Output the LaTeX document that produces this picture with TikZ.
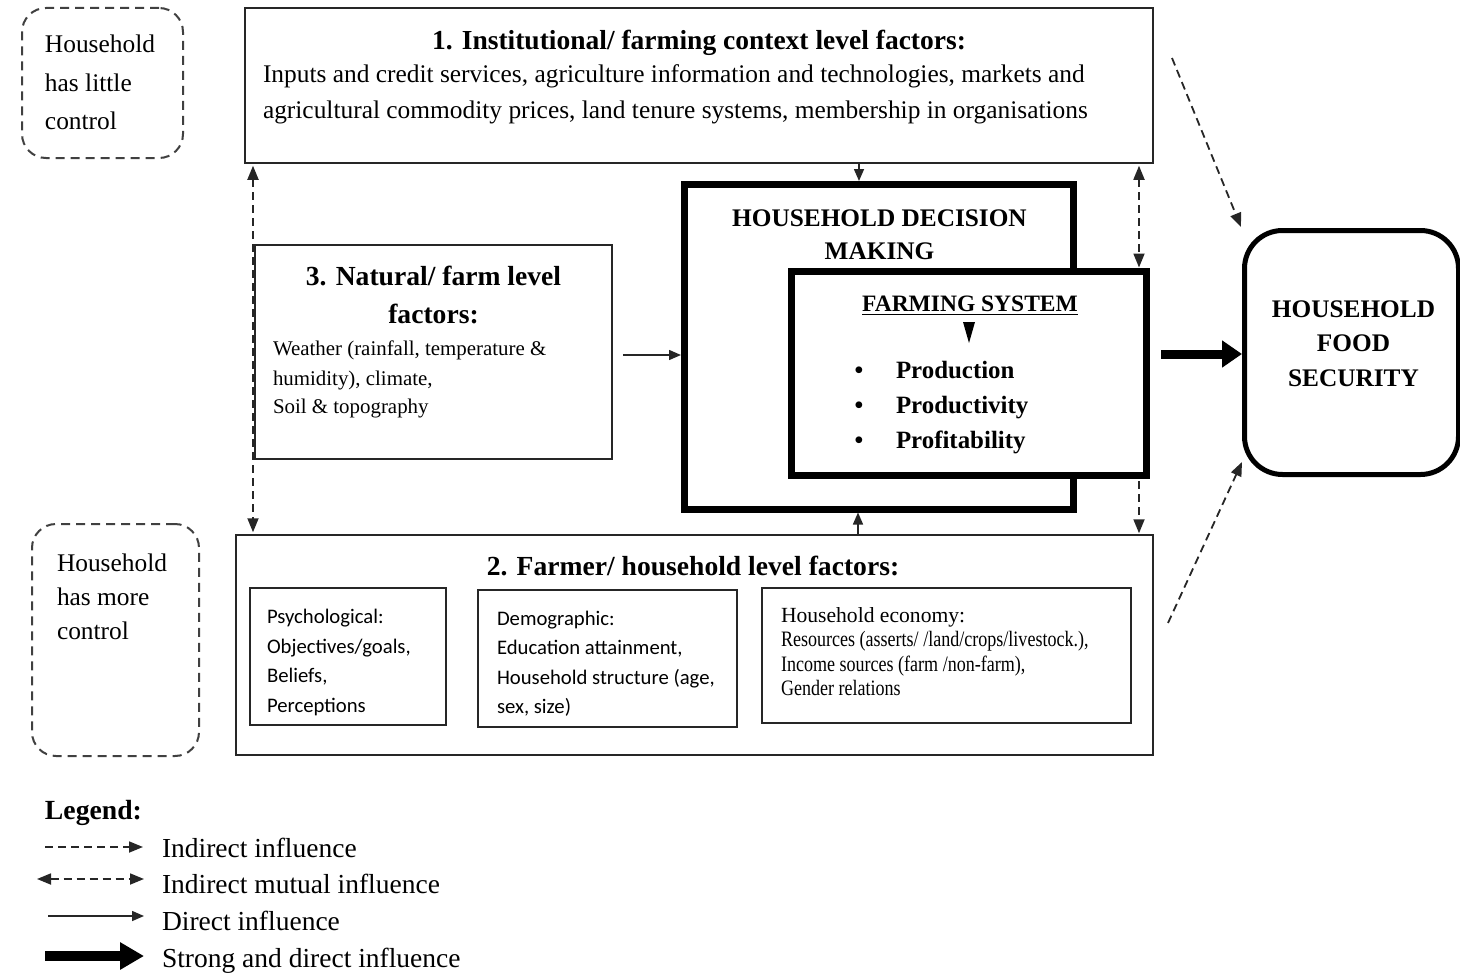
\documentclass[tikz,border=0pt]{standalone}
\usepackage{fontspec}
\setmainfont{Liberation Serif}
\newfontfamily\carl{Carlito}
\newfontfamily\narrowser[FakeStretch=0.82]{Liberation Serif}
\usetikzlibrary{arrows.meta}
\newcommand\fsz[1]{\fontsize{#1}{#1}\selectfont}
\begin{document}
\begin{tikzpicture}[x=1pt,y=-1pt,
  box/.style={draw=black!85, line width=1.5pt, inner sep=0pt},
  dbox/.style={draw=black!75, line width=2pt, dash pattern=on 9pt off 6pt, rounded corners=24pt, inner sep=0pt},
  thickbox/.style={draw=black, line width=7pt, inner sep=0pt, fill=white},
  t/.style={inner sep=0pt, outer sep=0pt, text=black},
  tw/.style={t, anchor=base west},
  tc/.style={t, anchor=base},
  sarr/.style={draw=black!85, line width=1.5pt, -{Triangle[length=12pt,width=10pt]}},
  darr/.style={draw=black!85, line width=1.8pt, dash pattern=on 8pt off 5pt, -{Triangle[length=14pt,width=11pt]}},
  ddarr/.style={darr, {Triangle[length=14pt,width=11pt]}-{Triangle[length=14pt,width=11pt]}},
  karr/.style={draw=black, line width=9pt, -{Triangle[length=20pt,width=26pt]}},
]
\useasboundingbox (0,0) rectangle (1460,974);

% control boxes
\node[dbox, minimum width=161pt, minimum height=150pt] (little) at (102.5,83) {};
\node[tw, font=\fsz{25.4}] (lt1) at (45,53) {Household};
\node[tw, font=\fsz{25.4}] (lt2) at (45,92) {has little};
\node[tw, font=\fsz{25.4}] (lt3) at (45,129) {control};

\node[dbox, minimum width=167pt, minimum height=232pt] (more) at (115.5,640) {};
\node[tw, font=\fsz{25.4}] (mt1) at (57,571) {Household};
\node[tw, font=\fsz{25.4}] (mt2) at (57,605) {has more};
\node[tw, font=\fsz{25.4}] (mt3) at (57,639) {control};

% top box
\node[box, minimum width=908pt, minimum height=155pt] (top) at (699,85.5) {};
\node[tc, font=\bfseries\fsz{27.5}] (t1) at (699,50) {1. Institutional/ farming context level factors:};
\node[tw, font=\fsz{25.4}] (t1a) at (263,83) {Inputs and credit services, agriculture information and technologies, markets and};
\node[tw, font=\fsz{25.4}] (t1b) at (263,118) {agricultural commodity prices, land tenure systems, membership in organisations};

% natural box
\node[box, minimum width=357pt, minimum height=214pt] (nat) at (433.5,352) {};
\node[tc, font=\bfseries\fsz{27.6}] (n1) at (433.5,285) {3. Natural/ farm level};
\node[tc, font=\bfseries\fsz{27.6}] (n2) at (433.5,323) {factors:};
\node[tw, font=\fsz{20.9}] (n3) at (273,355) {Weather (rainfall, temperature \&};
\node[tw, font=\fsz{20.9}] (n4) at (273,385) {humidity), climate,};
\node[tw, font=\fsz{20.9}] (n5) at (273,413) {Soil \& topography};

% household decision making
\node[thickbox, minimum width=388.5pt, minimum height=324.5pt] (hh) at (878.75,346.75) {};
\node[tc, font=\bfseries\fsz{25.3}] (h1) at (879.5,226) {HOUSEHOLD DECISION};
\node[tc, font=\bfseries\fsz{25.3}] (h2) at (879.5,259) {MAKING};

% farming system
\node[thickbox, minimum width=355pt, minimum height=204.5pt] (farm) at (969,373.25) {};
\node[tc, font=\bfseries\fsz{23.5}] (fs) at (970,311) {FARMING SYSTEM};
\draw[line width=1.5pt] ([yshift=-3.5pt]fs.south west) -- ([yshift=-3.5pt]fs.south east);
\fill (963,322) -- (975,322) -- (969,343) -- cycle;
\node[tc, font=\bfseries\fsz{24.9}] (b1) at (859,378) {•};
\node[tc, font=\bfseries\fsz{24.9}] (b2) at (859,413) {•};
\node[tc, font=\bfseries\fsz{24.9}] (b3) at (859,448) {•};
\node[tw, font=\bfseries\fsz{24.9}] (p1) at (896,378) {Production};
\node[tw, font=\bfseries\fsz{24.9}] (p2) at (896,413) {Productivity};
\node[tw, font=\bfseries\fsz{24.9}] (p3) at (896,448) {Profitability};

% food security
\node[draw=black, line width=5pt, rounded corners=38pt, inner sep=0pt, minimum width=214pt, minimum height=244pt] (food) at (1351.5,352.5) {};
\node[tc, font=\bfseries\fsz{25.3}] (f1) at (1353.5,317) {HOUSEHOLD};
\node[tc, font=\bfseries\fsz{25.3}] (f2) at (1353.5,351) {FOOD};
\node[tc, font=\bfseries\fsz{25.3}] (f3) at (1353.5,386) {SECURITY};

% bottom box
\node[box, minimum width=917pt, minimum height=220pt] (bot) at (694.5,645) {};
\node[tc, font=\bfseries\fsz{27.6}] (b0) at (693,575) {2. Farmer/ household level factors:};
\node[box, minimum width=196pt, minimum height=137pt] (psy) at (348,656.5) {};
\node[tw, font=\carl\fsz{20.7}] (ps1) at (267,623) {Psychological:};
\node[tw, font=\carl\fsz{20.7}] (ps2) at (267,653) {Objectives/goals,};
\node[tw, font=\carl\fsz{20.7}] (ps3) at (267,682) {Beliefs,};
\node[tw, font=\carl\fsz{20.7}] (ps4) at (267,712) {Perceptions};
\node[box, minimum width=259pt, minimum height=137pt] (demo) at (607.5,658.5) {};
\node[tw, font=\carl\fsz{20.7}] (de1) at (497,625) {Demographic:};
\node[tw, font=\carl\fsz{20.7}] (de2) at (497,654) {Education attainment,};
\node[tw, font=\carl\fsz{20.7}] (de3) at (497,684) {Household structure (age,};
\node[tw, font=\carl\fsz{20.7}] (de4) at (497,713) {sex, size)};
\node[box, minimum width=369pt, minimum height=135pt] (econ) at (946.5,655.5) {};
\node[tw, font=\fsz{21.6}] (ec1) at (781,622) {Household economy:};
\node[tw, font=\narrowser\fsz{22}] (ec2) at (781,646) {Resources (asserts/ /land/crops/livestock.),};
\node[tw, font=\narrowser\fsz{22}] (ec3) at (781,671) {Income sources (farm /non-farm),};
\node[tw, font=\narrowser\fsz{22}] (ec4) at (781,695) {Gender relations};

% connectors
\coordinate (xa) at (859,0);
\coordinate (xb) at (858,0);
\coordinate (xl) at (253,0);
\coordinate (xr) at (1139,0);
\coordinate (ya) at (0,354);
\coordinate (yn) at (0,355);
\draw[sarr] (top.south -| xa) -- (hh.north -| xa);
\draw[sarr] (bot.north -| xb) -- (hh.south -| xb);
\draw[ddarr] ([yshift=-2pt]top.south -| xl) -- ([yshift=2pt]bot.north -| xl);
\draw[ddarr] ([yshift=-2pt]top.south -| xr) -- (farm.north -| xr);
\draw[darr] ([yshift=-2pt]farm.south -| xr) -- ([yshift=1pt]bot.north -| xr);
\draw[sarr, shorten <=10pt] (nat.east |- yn) -- (hh.west |- yn);
\draw[karr, shorten <=11pt] (farm.east |- ya) -- (food.west |- ya);
\coordinate (d1) at (1172,58);
\coordinate (d2) at (1168,623);
\draw[darr] (d1) -- ([xshift=-1pt,yshift=1pt]food.north west);
\draw[darr] (d2) -- ([yshift=15pt]food.south west);

% legend
\node[tw, font=\bfseries\fsz{27.7}] (lg) at (45,819) {Legend:};
\coordinate (la1) at (45,847); \coordinate (la2) at (143,847);
\coordinate (lb1) at (37,879); \coordinate (lb2) at (144,879);
\coordinate (lc1) at (48,916); \coordinate (lc2) at (144,916);
\coordinate (ld1) at (45,956); \coordinate (ld2) at (144,956);
\draw[darr] (la1) -- (la2);
\draw[ddarr] (lb1) -- (lb2);
\draw[sarr] (lc1) -- (lc2);
\draw[karr, line width=10pt, -{Triangle[length=24pt,width=26pt]}] (ld1) -- (ld2);
\node[tw, font=\fsz{27.5}] (lg1) at (162,857) {Indirect influence};
\node[tw, font=\fsz{27.5}] (lg2) at (162,893) {Indirect mutual influence};
\node[tw, font=\fsz{27.5}] (lg3) at (162,930) {Direct influence};
\node[tw, font=\fsz{27.5}] (lg4) at (162,967) {Strong and direct influence};
\end{tikzpicture}
\end{document}
